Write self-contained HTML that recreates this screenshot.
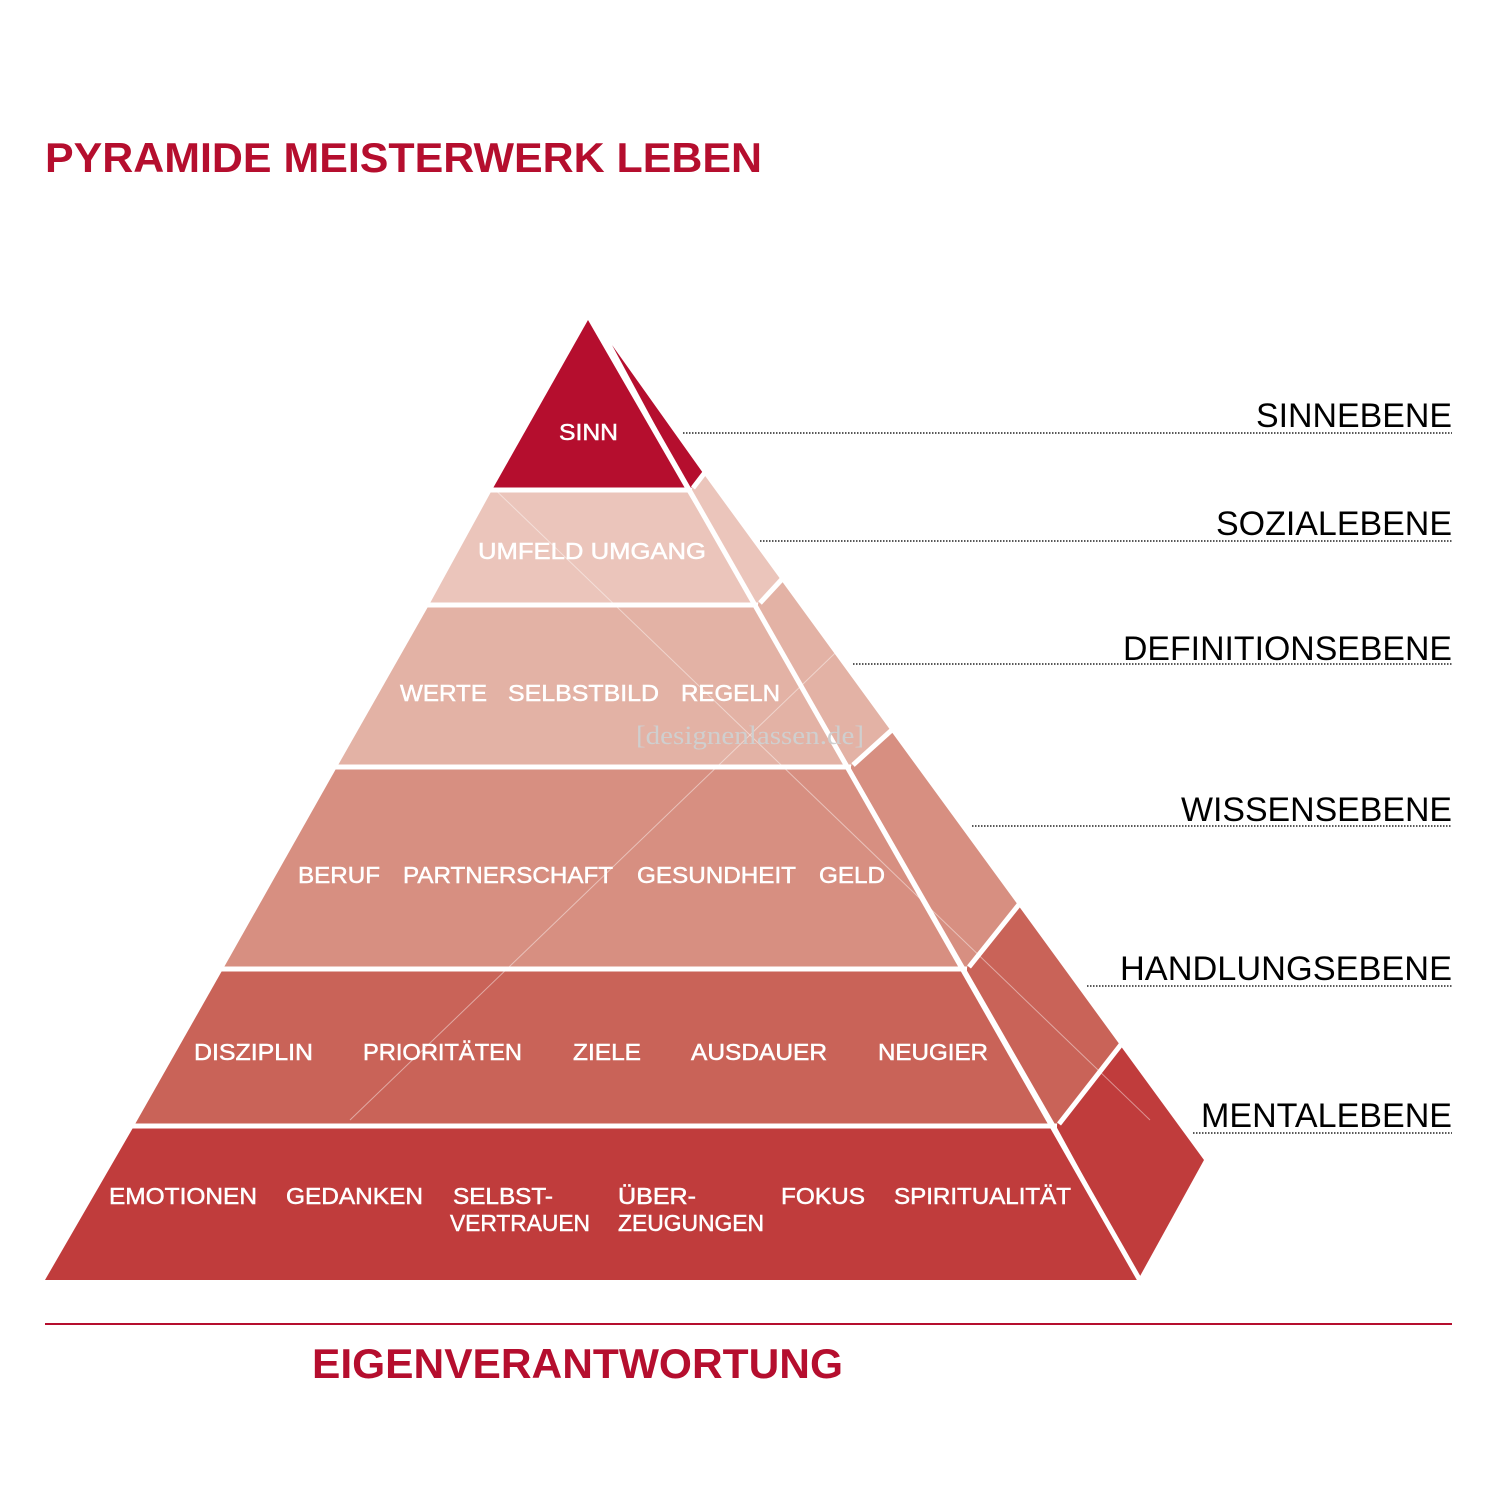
<!DOCTYPE html>
<html><head><meta charset="utf-8"><style>
html,body{margin:0;padding:0;background:#fff;}
svg{display:block;}
text{font-family:"Liberation Sans",Arial,sans-serif;}
</style></head><body>
<svg width="1500" height="1500" viewBox="0 0 1500 1500" xmlns="http://www.w3.org/2000/svg">
<rect width="1500" height="1500" fill="#fff"/>
<text x="45" y="172" font-size="42" font-weight="bold" fill="#b50e2e" textLength="717" lengthAdjust="spacingAndGlyphs">PYRAMIDE MEISTERWERK LEBEN</text>

<polygon points="588,320 492,490 686,490" fill="#b50e2e"/>
<polygon points="492,490 686,490 755,605 429,605" fill="#ebc5bb"/>
<polygon points="429,605 755,605 848,767 337,767" fill="#e3b2a5"/>
<polygon points="337,767 848,767 964,969 223,969" fill="#d78f81"/>
<polygon points="223,969 964,969 1054,1126 134,1126" fill="#c96358"/>
<polygon points="134,1126 1054,1126 1139,1280 45,1280" fill="#c03c3c"/>

<polygon points="612,345 703,473 690,490" fill="#b50e2e"/>
<polygon points="690,490 703,473 781,580 757,605" fill="#ebc5bb"/>
<polygon points="757,605 781,580 891,731 850,767" fill="#e3b2a5"/>
<polygon points="850,767 891,731 1018,905 966,969" fill="#d78f81"/>
<polygon points="966,969 1018,905 1120,1045 1056,1126" fill="#c96358"/>
<polygon points="1056,1126 1120,1045 1204,1160 1139,1278" fill="#c03c3c"/>

<g stroke="#fff" stroke-width="5" fill="none">
<line x1="598" y1="330" x2="1142" y2="1284"/>
<line x1="480" y1="490" x2="692" y2="490"/>
<line x1="420" y1="605" x2="758" y2="605"/>
<line x1="325" y1="767" x2="851" y2="767"/>
<line x1="210" y1="969" x2="967" y2="969"/>
<line x1="120" y1="1126" x2="1057" y2="1126"/>
<line x1="693" y1="488" x2="706" y2="471"/>
<line x1="760" y1="603" x2="784" y2="577"/>
<line x1="853" y1="765" x2="894" y2="728"/>
<line x1="969" y1="967" x2="1021" y2="902"/>
<line x1="1059" y1="1124" x2="1123" y2="1042"/>
</g>

<g stroke="#ffffff" stroke-opacity="0.45" stroke-width="1">
<line x1="350" y1="350" x2="1150" y2="1120"/>
<line x1="1150" y1="350" x2="350" y2="1120"/>
</g>
<text x="750" y="744" font-size="26" fill="#cfcfcf" text-anchor="middle" textLength="228" lengthAdjust="spacingAndGlyphs" style="font-family:'Liberation Serif',serif">[designenlassen.de]</text>

<g fill="#fff" stroke="#fff" stroke-width="0.5" font-size="23">
<text x="559" y="440" textLength="59" lengthAdjust="spacingAndGlyphs">SINN</text>
<text x="478" y="559" textLength="228" lengthAdjust="spacingAndGlyphs">UMFELD  UMGANG</text>
<text x="400" y="701" textLength="87" lengthAdjust="spacingAndGlyphs">WERTE</text>
<text x="508" y="701" textLength="151" lengthAdjust="spacingAndGlyphs">SELBSTBILD</text>
<text x="681" y="701" textLength="99" lengthAdjust="spacingAndGlyphs">REGELN</text>
<text x="298" y="883" textLength="82" lengthAdjust="spacingAndGlyphs">BERUF</text>
<text x="403" y="883" textLength="210" lengthAdjust="spacingAndGlyphs">PARTNERSCHAFT</text>
<text x="637" y="883" textLength="159" lengthAdjust="spacingAndGlyphs">GESUNDHEIT</text>
<text x="819" y="883" textLength="66" lengthAdjust="spacingAndGlyphs">GELD</text>
<text x="194" y="1060" textLength="119" lengthAdjust="spacingAndGlyphs">DISZIPLIN</text>
<text x="363" y="1060" textLength="159" lengthAdjust="spacingAndGlyphs">PRIORITÄTEN</text>
<text x="573" y="1060" textLength="68" lengthAdjust="spacingAndGlyphs">ZIELE</text>
<text x="691" y="1060" textLength="136" lengthAdjust="spacingAndGlyphs">AUSDAUER</text>
<text x="878" y="1060" textLength="110" lengthAdjust="spacingAndGlyphs">NEUGIER</text>
<text x="109" y="1204" textLength="148" lengthAdjust="spacingAndGlyphs">EMOTIONEN</text>
<text x="286" y="1204" textLength="137" lengthAdjust="spacingAndGlyphs">GEDANKEN</text>
<text x="453" y="1204" textLength="100" lengthAdjust="spacingAndGlyphs">SELBST-</text>
<text x="618" y="1204" textLength="78" lengthAdjust="spacingAndGlyphs">ÜBER-</text>
<text x="781" y="1204" textLength="84" lengthAdjust="spacingAndGlyphs">FOKUS</text>
<text x="894" y="1204" textLength="177" lengthAdjust="spacingAndGlyphs">SPIRITUALITÄT</text>
<text x="450" y="1231" textLength="140" lengthAdjust="spacingAndGlyphs">VERTRAUEN</text>
<text x="618" y="1231" textLength="146" lengthAdjust="spacingAndGlyphs">ZEUGUNGEN</text>
</g>

<g stroke="#222" stroke-width="1.5" stroke-dasharray="1.5,1.5">
<line x1="683" y1="433" x2="1452" y2="433"/>
<line x1="760" y1="541" x2="1452" y2="541"/>
<line x1="853" y1="664" x2="1452" y2="664"/>
<line x1="972" y1="826" x2="1452" y2="826"/>
<line x1="1087" y1="986" x2="1452" y2="986"/>
<line x1="1193" y1="1133" x2="1452" y2="1133"/>
</g>
<g fill="#000" font-size="34">
<text x="1256" y="427" textLength="196" lengthAdjust="spacingAndGlyphs">SINNEBENE</text>
<text x="1216" y="535" textLength="236" lengthAdjust="spacingAndGlyphs">SOZIALEBENE</text>
<text x="1123" y="660" textLength="329" lengthAdjust="spacingAndGlyphs">DEFINITIONSEBENE</text>
<text x="1181" y="821" textLength="271" lengthAdjust="spacingAndGlyphs">WISSENSEBENE</text>
<text x="1120" y="980" textLength="332" lengthAdjust="spacingAndGlyphs">HANDLUNGSEBENE</text>
<text x="1201" y="1127" textLength="251" lengthAdjust="spacingAndGlyphs">MENTALEBENE</text>
</g>

<line x1="45" y1="1324" x2="1452" y2="1324" stroke="#b50e2e" stroke-width="2"/>
<text x="312" y="1378" font-size="42" font-weight="bold" fill="#b50e2e" textLength="531" lengthAdjust="spacingAndGlyphs">EIGENVERANTWORTUNG</text>
</svg>
</body></html>
